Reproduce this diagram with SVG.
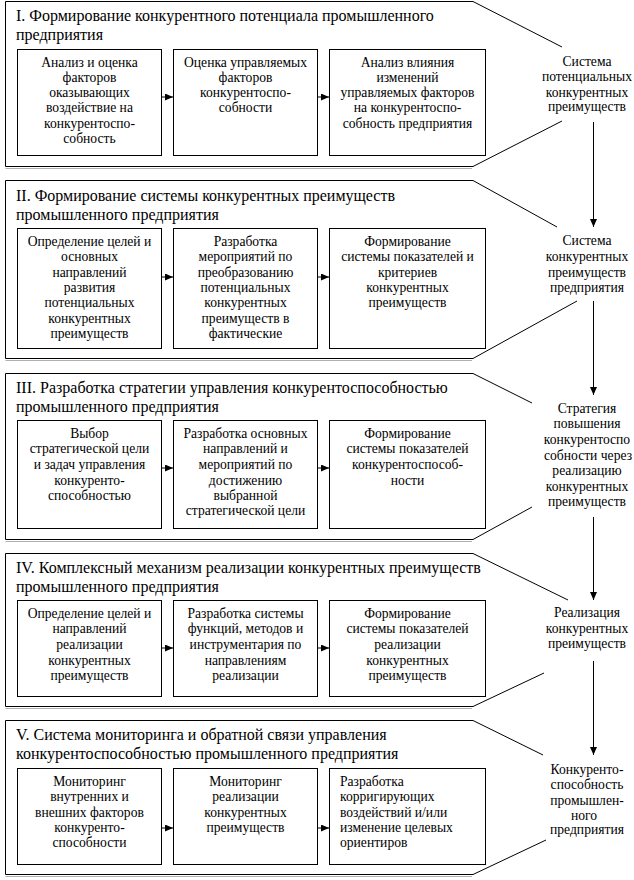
<svg xmlns="http://www.w3.org/2000/svg" width="634" height="880" viewBox="0 0 634 880" font-family="'Liberation Serif', 'Times New Roman', Times, 'DejaVu Serif', serif">
<defs>
<style>
.out{fill:none;stroke:#000;stroke-width:1}
.sh{fill:none;stroke:#b0b0b0;stroke-width:1}
.box{fill:#fff;stroke:#000;stroke-width:1}
text{font-family:'Liberation Serif', 'Times New Roman', Times, 'DejaVu Serif', serif;fill:#000}
.t{font-size:16px}
.b{font-size:13.6px;text-anchor:middle}
.bl{font-size:13.6px}
.r{font-size:13.6px;text-anchor:middle}
.c{fill:none;stroke:#000;stroke-width:1}
</style>
<marker id="ah" markerWidth="8" markerHeight="7" refX="8" refY="3.5" orient="auto" markerUnits="userSpaceOnUse">
<path d="M0,0 L8,3.5 L0,7 Z" fill="#000"/>
</marker>
</defs>
<rect width="634" height="880" fill="#fff"/>

<g id="section1">
<path class="out" d="M562,47 L473,1.5 L5.5,1.5 L5.5,166.5 L473,166.5 L562,121"/>
<path class="sh" d="M5.5,168.5 L472,168.5"/>
<text class="t" x="16" y="21">I. Формирование конкурентного потенциала промышленного</text>
<text class="t" x="16" y="40">предприятия</text>
</g>
<g id="s1b1">
<rect class="box" x="17.5" y="49.5" width="144" height="106"/>
<text class="b" x="89.5" y="67">Анализ и оценка</text>
<text class="b" x="89.5" y="82">факторов</text>
<text class="b" x="89.5" y="97">оказывающих</text>
<text class="b" x="89.5" y="112">воздействие на</text>
<text class="b" x="89.5" y="128">конкурентоспо-</text>
<text class="b" x="89.5" y="143">собность</text>
</g>
<g id="s1b2">
<rect class="box" x="173.5" y="49.5" width="144" height="106"/>
<text class="b" x="245.5" y="67">Оценка управляемых</text>
<text class="b" x="245.5" y="82">факторов</text>
<text class="b" x="245.5" y="97">конкурентоспо-</text>
<text class="b" x="245.5" y="112">собности</text>
</g>
<g id="s1b3">
<rect class="box" x="329.5" y="49.5" width="156" height="106"/>
<text class="b" x="407.5" y="67">Анализ влияния</text>
<text class="b" x="407.5" y="82">изменений</text>
<text class="b" x="407.5" y="97">управляемых факторов</text>
<text class="b" x="407.5" y="112">на конкурентоспо-</text>
<text class="b" x="407.5" y="128">собность предприятия</text>
</g>
<g id="s1r">
<text class="r" x="587" y="66">Система</text>
<text class="r" x="587" y="81">потенциальных</text>
<text class="r" x="587" y="97">конкурентных</text>
<text class="r" x="587" y="111">преимуществ</text>
</g>

<g id="section2">
<path class="out" d="M557,227 L473,180.5 L5.5,180.5 L5.5,358.5 L473,358.5 L577,301"/>
<path class="sh" d="M5.5,360.5 L472,360.5"/>
<text class="t" x="16" y="201">II. Формирование системы конкурентных преимуществ</text>
<text class="t" x="16" y="220">промышленного предприятия</text>
</g>
<g id="s2b1">
<rect class="box" x="17.5" y="228.5" width="144" height="120"/>
<text class="b" x="89.5" y="246">Определение целей и</text>
<text class="b" x="89.5" y="261">основных</text>
<text class="b" x="89.5" y="277">направлений</text>
<text class="b" x="89.5" y="292">развития</text>
<text class="b" x="89.5" y="307">потенциальных</text>
<text class="b" x="89.5" y="323">конкурентных</text>
<text class="b" x="89.5" y="338">преимуществ</text>
</g>
<g id="s2b2">
<rect class="box" x="173.5" y="228.5" width="144" height="120"/>
<text class="b" x="245.5" y="246">Разработка</text>
<text class="b" x="245.5" y="261">мероприятий по</text>
<text class="b" x="245.5" y="277">преобразованию</text>
<text class="b" x="245.5" y="292">потенциальных</text>
<text class="b" x="245.5" y="307">конкурентных</text>
<text class="b" x="245.5" y="323">преимуществ в</text>
<text class="b" x="245.5" y="338">фактические</text>
</g>
<g id="s2b3">
<rect class="box" x="329.5" y="228.5" width="156" height="120"/>
<text class="b" x="407.5" y="246">Формирование</text>
<text class="b" x="407.5" y="261">системы показателей и</text>
<text class="b" x="407.5" y="277">критериев</text>
<text class="b" x="407.5" y="292">конкурентных</text>
<text class="b" x="407.5" y="307">преимуществ</text>
</g>
<g id="s2r">
<text class="r" x="587" y="245">Система</text>
<text class="r" x="587" y="261">конкурентных</text>
<text class="r" x="587" y="277">преимуществ</text>
<text class="r" x="587" y="292">предприятия</text>
</g>

<g id="section3">
<path class="out" d="M532,403 L473,373.5 L5.5,373.5 L5.5,539.5 L473,539.5 L532,507"/>
<path class="sh" d="M5.5,541.5 L472,541.5"/>
<text class="t" x="16" y="393">III. Разработка стратегии управления конкурентоспособностью</text>
<text class="t" x="16" y="412">промышленного предприятия</text>
</g>
<g id="s3b1">
<rect class="box" x="17.5" y="420.5" width="144" height="108"/>
<text class="b" x="89.5" y="438">Выбор</text>
<text class="b" x="89.5" y="453">стратегической цели</text>
<text class="b" x="89.5" y="469">и задач управления</text>
<text class="b" x="89.5" y="485">конкуренто-</text>
<text class="b" x="89.5" y="500">способностью</text>
</g>
<g id="s3b2">
<rect class="box" x="173.5" y="420.5" width="144" height="108"/>
<text class="b" x="245.5" y="438">Разработка основных</text>
<text class="b" x="245.5" y="453">направлений и</text>
<text class="b" x="245.5" y="469">мероприятий по</text>
<text class="b" x="245.5" y="485">достижению</text>
<text class="b" x="245.5" y="500">выбранной</text>
<text class="b" x="245.5" y="515">стратегической цели</text>
</g>
<g id="s3b3">
<rect class="box" x="329.5" y="420.5" width="156" height="108"/>
<text class="b" x="407.5" y="438">Формирование</text>
<text class="b" x="407.5" y="453">системы показателей</text>
<text class="b" x="407.5" y="469">конкурентоспособ-</text>
<text class="b" x="407.5" y="485">ности</text>
</g>
<g id="s3r">
<text class="r" x="587" y="413">Стратегия</text>
<text class="r" x="587" y="428">повышения</text>
<text class="r" x="587" y="444">конкурентоспо</text>
<text class="r" x="588" y="460">собности через</text>
<text class="r" x="587" y="475">реализацию</text>
<text class="r" x="587" y="491">конкурентных</text>
<text class="r" x="587" y="506">преимуществ</text>
</g>

<g id="section4">
<path class="out" d="M568,600 L473,553.5 L5.5,553.5 L5.5,706.5 L473,706.5 L544,673"/>
<path class="sh" d="M5.5,708.5 L472,708.5"/>
<text class="t" x="16" y="573">IV. Комплексный механизм реализации конкурентных преимуществ</text>
<text class="t" x="16" y="592">промышленного предприятия</text>
</g>
<g id="s4b1">
<rect class="box" x="17.5" y="600.5" width="144" height="96"/>
<text class="b" x="89.5" y="618">Определение целей и</text>
<text class="b" x="89.5" y="633">направлений</text>
<text class="b" x="89.5" y="649">реализации</text>
<text class="b" x="89.5" y="665">конкурентных</text>
<text class="b" x="89.5" y="680">преимуществ</text>
</g>
<g id="s4b2">
<rect class="box" x="173.5" y="600.5" width="144" height="96"/>
<text class="b" x="245.5" y="618">Разработка системы</text>
<text class="b" x="245.5" y="633">функций,  методов и</text>
<text class="b" x="245.5" y="649">инструментария по</text>
<text class="b" x="245.5" y="665">направлениям</text>
<text class="b" x="245.5" y="680">реализации</text>
</g>
<g id="s4b3">
<rect class="box" x="329.5" y="600.5" width="156" height="96"/>
<text class="b" x="407.5" y="618">Формирование</text>
<text class="b" x="407.5" y="633">системы показателей</text>
<text class="b" x="407.5" y="649">реализации</text>
<text class="b" x="407.5" y="665">конкурентных</text>
<text class="b" x="407.5" y="680">преимуществ</text>
</g>
<g id="s4r">
<text class="r" x="587" y="617">Реализация</text>
<text class="r" x="587" y="633">конкурентных</text>
<text class="r" x="587" y="648">преимуществ</text>
</g>

<g id="section5">
<path class="out" d="M543,755 L473,720.5 L5.5,720.5 L5.5,874.5 L473,874.5 L546,840"/>
<path class="sh" d="M5.5,876.5 L472,876.5"/>
<text class="t" x="16" y="740">V. Система мониторинга и обратной связи управления</text>
<text class="t" x="16" y="759">конкурентоспособностью промышленного предприятия</text>
</g>
<g id="s5b1">
<rect class="box" x="17.5" y="768.5" width="144" height="96"/>
<text class="b" x="89.5" y="786">Мониторинг</text>
<text class="b" x="89.5" y="801">внутренних и</text>
<text class="b" x="89.5" y="817">внешних  факторов</text>
<text class="b" x="89.5" y="832">конкуренто-</text>
<text class="b" x="89.5" y="847">способности</text>
</g>
<g id="s5b2">
<rect class="box" x="173.5" y="768.5" width="144" height="96"/>
<text class="b" x="245.5" y="786">Мониторинг</text>
<text class="b" x="245.5" y="801">реализации</text>
<text class="b" x="245.5" y="817">конкурентных</text>
<text class="b" x="245.5" y="832">преимуществ</text>
</g>
<g id="s5b3">
<rect class="box" x="329.5" y="768.5" width="156" height="96"/>
<text class="bl" x="340" y="786">Разработка</text>
<text class="bl" x="340" y="801">корригирующих</text>
<text class="bl" x="340" y="817">воздействий и/или</text>
<text class="bl" x="340" y="832">изменение целевых</text>
<text class="bl" x="340" y="847">ориентиров</text>
</g>
<g id="s5r">
<text class="r" x="587" y="774">Конкуренто-</text>
<text class="r" x="587" y="789">способность</text>
<text class="r" x="587" y="805">промышлен-</text>
<text class="r" x="584" y="820">ного</text>
<text class="r" x="587" y="834">предприятия</text>
</g>

<g id="connectors">
<path class="c" marker-end="url(#ah)" d="M162,97 L173,97"/>
<path class="c" marker-end="url(#ah)" d="M318,97 L329,97"/>
<path class="c" marker-end="url(#ah)" d="M162,277 L173,277"/>
<path class="c" marker-end="url(#ah)" d="M318,277 L329,277"/>
<path class="c" marker-end="url(#ah)" d="M162,468 L173,468"/>
<path class="c" marker-end="url(#ah)" d="M318,468 L329,468"/>
<path class="c" marker-end="url(#ah)" d="M162,648 L173,648"/>
<path class="c" marker-end="url(#ah)" d="M318,648 L329,648"/>
<path class="c" marker-end="url(#ah)" d="M162,828 L173,828"/>
<path class="c" marker-end="url(#ah)" d="M318,828 L329,828"/>
<path class="c" marker-end="url(#ah)" d="M593.5,122 L593.5,227"/>
<path class="c" marker-end="url(#ah)" d="M593.5,301 L593.5,395"/>
<path class="c" marker-end="url(#ah)" d="M593.5,517 L593.5,600"/>
<path class="c" marker-end="url(#ah)" d="M593.5,661 L593.5,755"/>
</g>
</svg>
